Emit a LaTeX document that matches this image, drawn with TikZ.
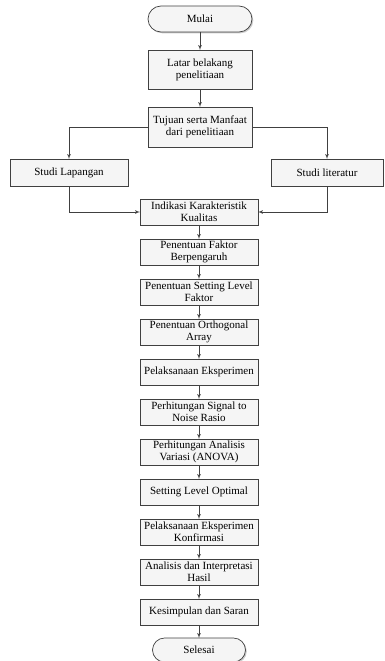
\documentclass[tikz,border=0pt]{standalone}
\usepackage{fontspec}
\setmainfont{Liberation Serif}
\usepackage{tikz}
\usetikzlibrary{arrows}
\usetikzlibrary{positioning}
\usetikzlibrary{shadows}

\begin{document}
\begin{tikzpicture}[x=1pt,y=1pt,node distance=14pt,auto,>=latex',
    font=\fontsize{11}{12}\selectfont,
    box/.style={draw=black!75, fill=black!4, line width=0.7pt, align=center,
      inner xsep=1pt, inner ysep=0pt, outer sep=0pt, minimum width=118pt, minimum height=26pt,
      drop shadow={shadow xshift=1.3pt, shadow yshift=-1.3pt, fill=black!40}},
    term/.style={box, rounded corners=12pt},
    line/.style={draw=black!75, line width=0.7pt}]
  \useasboundingbox (0,0) rectangle (384,-661);
  \node [term, minimum width=104pt, minimum height=26pt, rounded corners=13pt] (mulai) at (200,-19) {Mulai};
  \node [box, minimum width=104pt, minimum height=39pt] (latar) [below=18pt of mulai] {Latar belakang\\penelitiaan};
  \node [box, minimum width=104pt, minimum height=40pt] (tujuan) [below=18pt of latar] {Tujuan serta Manfaat\\dari penelitiaan};
  \node [box, minimum height=27pt] (lapangan) at (69,-172.5) {Studi Lapangan};
  \node [box, minimum width=112pt, minimum height=27pt] (literatur) at (327,-172.5) {Studi literatur};
  \node [box] (indikasi) at (199,-212) {Indikasi Karakteristik\\Kualitas};
  \node [box] (faktor) [below=of indikasi] {Penentuan Faktor\\Berpengaruh};
  \node [box] (setting) [below=of faktor] {Penentuan Setting Level\\Faktor};
  \node [box] (ortho) [below=of setting] {Penentuan Orthogonal\\Array};
  \node [box] (eksp) [below=of ortho] {Pelaksanaan Eksperimen};
  \node [box] (snr) [below=of eksp] {Perhitungan Signal to\\Noise Rasio};
  \node [box] (anova) [below=of snr] {Perhitungan Analisis\\Variasi (ANOVA)};
  \node [box] (optimal) [below=of anova] {Setting Level Optimal};
  \node [box] (konfirmasi) [below=of optimal] {Pelaksanaan Eksperimen\\Konfirmasi};
  \node [box] (analisis) [below=of konfirmasi] {Analisis dan Interpretasi\\Hasil};
  \node [box] (saran) [below=of analisis] {Kesimpulan dan Saran};
  \node [term, minimum width=93pt, minimum height=24pt] (selesai) [below=13pt of saran] {Selesai};
  \draw[line,->] (mulai) -- (latar);
  \draw[line,->] (latar) -- (tujuan);
  \draw[line,->] (tujuan.west) -| (lapangan.north);
  \draw[line,->] (tujuan.east) -| (literatur.north);
  \draw[line,->] (lapangan.south) |- (indikasi.west);
  \draw[line,->] (literatur.south) |- (indikasi.east);
  \draw[line,->] (indikasi) -- (faktor);
  \draw[line,->] (faktor) -- (setting);
  \draw[line,->] (setting) -- (ortho);
  \draw[line,->] (ortho) -- (eksp);
  \draw[line,->] (eksp) -- (snr);
  \draw[line,->] (snr) -- (anova);
  \draw[line,->] (anova) -- (optimal);
  \draw[line,->] (optimal) -- (konfirmasi);
  \draw[line,->] (konfirmasi) -- (analisis);
  \draw[line,->] (analisis) -- (saran);
  \draw[line,->] (saran) -- (selesai);
\end{tikzpicture}
\end{document}
